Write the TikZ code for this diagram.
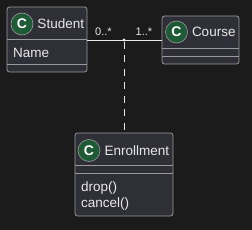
\documentclass[tikz,border=0pt]{standalone}
\usepackage{fontspec}
\setmainfont{Liberation Sans}
\usetikzlibrary{positioning}
\definecolor{bgdark}{HTML}{1B1B1B}
\definecolor{boxfill}{HTML}{2F2F38}
\definecolor{boxline}{HTML}{9A9A9A}
\definecolor{spotgreen}{HTML}{1F5A36}
\definecolor{txtlight}{HTML}{E8E8E8}

\begin{document}
\begin{tikzpicture}[x=1pt, y=-1pt, font=\fontsize{13.5}{16}\selectfont,
  cls/.style={draw=boxline, fill=boxfill, rounded corners=2.5pt,
              line width=0.8pt, inner sep=0pt},
  sep/.style={draw=boxline, line width=0.8pt},
  spot/.style={circle, draw=boxline, fill=spotgreen, line width=0.6pt,
               minimum size=22pt, inner sep=0pt, text=white,
               font=\fontsize{14}{16}\selectfont\bfseries},
  title/.style={text=txtlight, inner sep=0pt, anchor=west},
  member/.style={text=txtlight, inner sep=0pt, anchor=west},
  mult/.style={text=txtlight, inner sep=0pt, font=\fontsize{11}{13}\selectfont},
  link/.style={draw=txtlight, line width=0.8pt}]
\fill[bgdark] (0,0) rectangle (252,230);
\useasboundingbox (0,0) rectangle (252,230);
% --- classes ---
\node[cls, minimum width=80pt, minimum height=65pt] (student) at (47,39.5) {};
\node[cls, minimum width=77pt, minimum height=48pt] (course) at (200.5,40) {};
\node[cls, minimum width=98pt, minimum height=83pt] (enroll) at (124,174.5) {};
% --- compartments ---
\draw[sep] (student.west |- 0,39) -- (student.east |- 0,39);
\draw[sep] (student.west |- 0,64) -- (student.east |- 0,64);
\draw[sep] (course.west |- 0,48) -- (course.east |- 0,48);
\draw[sep] (course.west |- 0,56) -- (course.east |- 0,56);
\draw[sep] (enroll.west |- 0,165) -- (enroll.east |- 0,165);
\draw[sep] (enroll.west |- 0,173) -- (enroll.east |- 0,173);
% --- headers ---
\node[spot] (studentC) at (22,24) {C};
\node[title, right=4pt of studentC] (studentT) {Student};
\node[spot] (courseC) at (176.5,32) {C};
\node[title, right=4pt of courseC] (courseT) {Course};
\node[spot] (enrollC) at (89,150.5) {C};
\node[title, right=4pt of enrollC] (enrollT) {Enrollment};
% --- members ---
\node[member] (name) at (13,53) {Name};
\node[member] (drop) at (81,188) {drop()};
\node[member] (cancel) at (81,204.5) {cancel()};
% --- association ---
\coordinate (mid) at (124,40);
\draw[link] (student.east |- mid) -- (course.west |- mid);
\fill[txtlight] (mid) circle (1.6pt);
\draw[link, dash pattern=on 7pt off 6.5pt, dash phase=-2pt] (mid) -- (enroll.north);
\node[mult] (m1) at (103.5,31.5) {0..*};
\node[mult] (m2) at (144,31.5) {1..*};
\end{tikzpicture}
\end{document}
